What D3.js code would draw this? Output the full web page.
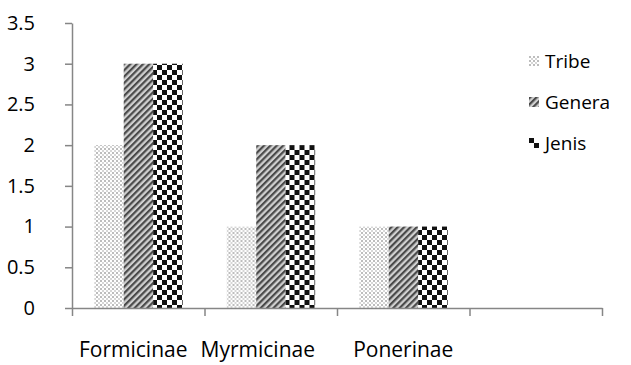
<!DOCTYPE html>
<html>
<head>
<meta charset="utf-8">
<script src="https://cdn.jsdelivr.net/npm/d3@7"></script>
<style>
  body { margin: 0; background: #fff; }
  svg text { font-family: "Open Sans", "Noto Sans", sans-serif; fill: #000; }
  .axis path, .axis line { stroke: #868686; stroke-width: 1.5px; }
</style>
</head>
<body>
<div id="chart"></div>
<script>
var categories = ["Formicinae", "Myrmicinae", "Ponerinae", ""];
var seriesNames = ["Tribe", "Genera", "Jenis"];
var tribe = [2, 1, 1];
var genera = [3, 2, 1];
var jenis = [3, 2, 1];
var yTicks = [0, 0.5, 1, 1.5, 2, 2.5, 3, 3.5];

var width = 631, height = 365;
var plotLeft = 72, plotRight = 602, plotTop = 23, plotBottom = 308;
// the source squeezes the first two labels left a bit
var labelNudge = [-5, -13, 0, 0];

var seriesValues = [tribe, genera, jenis];

var svg = d3.select("#chart").append("svg")
  .attr("width", width)
  .attr("height", height);

/* Patterns */
var defs = svg.append("defs");

var pTribe = defs.append("pattern")
  .attr("id", "p-tribe")
  .attr("patternUnits", "userSpaceOnUse")
  .attr("width", 4).attr("height", 4);
pTribe.append("rect").attr("width", 4).attr("height", 4).attr("fill", "#fff");
pTribe.append("rect").attr("x", 0).attr("y", 0).attr("width", 2).attr("height", 2).attr("fill", "#bdbdbd");
pTribe.append("rect").attr("x", 2).attr("y", 2).attr("width", 2).attr("height", 2).attr("fill", "#d6d6d6");

var pGenera = defs.append("pattern")
  .attr("id", "p-genera")
  .attr("patternUnits", "userSpaceOnUse")
  .attr("width", 4.5).attr("height", 4.5)
  .attr("patternTransform", "rotate(45)");
pGenera.append("rect").attr("width", 4.5).attr("height", 4.5).attr("fill", "#d0d0d0");
pGenera.append("rect").attr("width", 2.2).attr("height", 4.5).attr("fill", "#4a4a4a");

var pJenis = defs.append("pattern")
  .attr("id", "p-jenis")
  .attr("patternUnits", "userSpaceOnUse")
  .attr("width", 10).attr("height", 10);
pJenis.append("rect").attr("width", 10).attr("height", 10).attr("fill", "#fff");
pJenis.append("rect").attr("x", 0).attr("y", 0).attr("width", 5).attr("height", 5).attr("fill", "#111");
pJenis.append("rect").attr("x", 5).attr("y", 5).attr("width", 5).attr("height", 5).attr("fill", "#111");

var fills = ["url(#p-tribe)", "url(#p-genera)", "url(#p-jenis)"];

/* Scales */
var x0 = d3.scaleBand()
  .domain(categories)
  .range([plotLeft, plotRight]);

var x1 = d3.scaleBand()
  .domain(seriesNames)
  .range([x0.bandwidth() * 0.168, x0.bandwidth() * 0.835]);

var xEdge = d3.scaleLinear()
  .domain([0, categories.length])
  .range([plotLeft, plotRight]);

var y = d3.scaleLinear()
  .domain([0, 3.5])
  .range([plotBottom, plotTop]);

/* Bars */
var groups = svg.append("g").attr("class", "bars")
  .selectAll("g")
  .data(categories.slice(0, tribe.length))
  .enter().append("g")
  .attr("transform", d => `translate(${x0(d)},0)`);

groups.selectAll("rect")
  .data((d, i) => seriesNames.map((s, j) => ({series: s, value: seriesValues[j][i], k: j})))
  .enter().append("rect")
  .attr("x", d => x1(d.series))
  .attr("y", d => y(d.value))
  .attr("width", x1.bandwidth())
  .attr("height", d => y(0) - y(d.value))
  .attr("fill", d => fills[d.k]);

/* Axes */
svg.append("g")
  .attr("class", "y axis")
  .attr("transform", `translate(${plotLeft},0)`)
  .call(d3.axisLeft(y).tickValues(yTicks).tickSize(7).tickSizeOuter(0).tickPadding(30)
    .tickFormat(d => d))
  .call(g => g.selectAll("text").style("font-size", "20px"));

svg.append("g")
  .attr("class", "x axis")
  .attr("transform", `translate(0,${plotBottom})`)
  .call(d3.axisBottom(xEdge).tickValues(d3.range(categories.length + 1)).tickSize(8).tickSizeOuter(0)
    .tickFormat(""));

svg.append("g")
  .attr("class", "x labels")
  .attr("transform", `translate(0,${plotBottom})`)
  .call(d3.axisBottom(x0).tickSize(0).tickPadding(34))
  .call(g => g.select(".domain").remove())
  .call(g => g.selectAll("text")
    .style("font-size", "21px")
    .attr("dx", (d, i) => labelNudge[i]));

/* Legend */
var legend = svg.append("g").attr("class", "legend")
  .selectAll("g")
  .data(seriesNames)
  .enter().append("g")
  .attr("transform", (d, i) => `translate(529,${56 + i * 41})`);

legend.append("rect")
  .attr("width", 10).attr("height", 10)
  .attr("fill", (d, i) => fills[i]);

legend.append("text")
  .attr("x", 16)
  .attr("y", 5)
  .attr("dy", "0.35em")
  .style("font-size", "19px")
  .text(d => d);
</script>
</body>
</html>
